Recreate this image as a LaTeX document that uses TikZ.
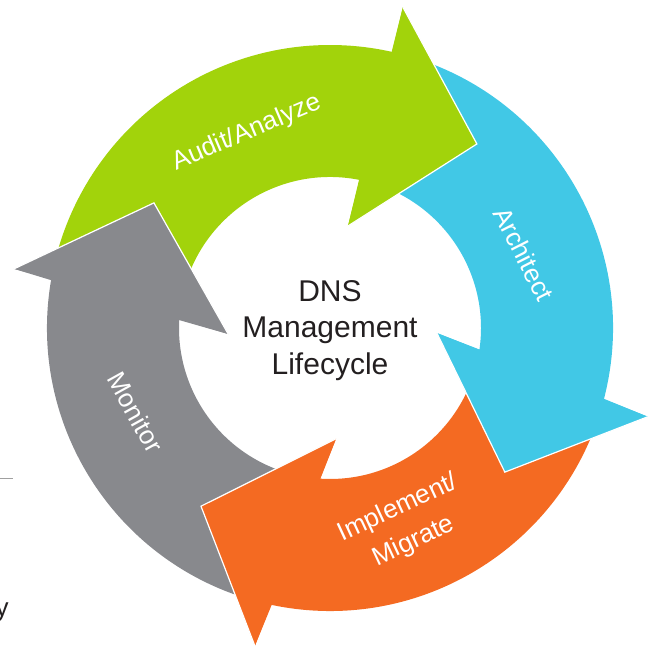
\documentclass[tikz,border=0pt]{standalone}
\usepackage{fontspec}
\setmainfont{Liberation Sans}
\usetikzlibrary{calc}

\definecolor{cgreen}{HTML}{A2D30B}
\definecolor{cblue}{HTML}{41C8E6}
\definecolor{corange}{HTML}{F46A22}
\definecolor{cgray}{HTML}{88898D}
\definecolor{ctext}{HTML}{231F20}
\definecolor{crule}{HTML}{A0A0A0}

\tikzset{
  headedge/.style={draw=white, line width=1.2pt, line join=miter},
  steplabel/.style={text=white, inner sep=0pt, font=\fontsize{26}{37}\selectfont, align=center},
  centerlabel/.style={text=ctext, inner sep=0pt, anchor=base, font=\fontsize{30}{36}\selectfont},
}

\begin{document}
\begin{tikzpicture}[x=1pt,y=1pt]
\useasboundingbox (0,0) rectangle (649,647);
\coordinate (C) at (330,319);

% arrow heads: outer barb (O), tip (T), inner barb (I)
\coordinate (gO) at ($(C)+(77.2:329pt)$);
\coordinate (gT) at ($(C)+(51.4:235.5pt)$);
\coordinate (gI) at ($(C)+(80:103.6pt)$);

\coordinate (bO) at ($(C)+(-15.6:330pt)$);
\coordinate (bT) at ($(C)+(-39.5:226.6pt)$);
\coordinate (bI) at ($(C)+(-2.7:107pt)$);

\coordinate (oO) at ($(C)+(-103.3:326.7pt)$);
\coordinate (oT) at ($(C)+(-125.9:220pt)$);
\coordinate (oI) at ($(C)+(-86.9:111pt)$);

\coordinate (yO) at ($(C)+(169.4:321.5pt)$);
\coordinate (yT) at ($(C)+(144.6:216pt)$);
\coordinate (yI) at ($(C)+(183.4:102pt)$);

% full ring arrows (shaft + head)
\fill[cgreen] ($(C)+(168:283pt)$) arc[start angle=168, end angle=77.3, radius=283pt]
  -- (gO) -- (gT) -- (gI) -- ($(C)+(78.9:151pt)$)
  arc[start angle=78.9, end angle=168, radius=151pt] -- cycle;
\fill[cblue] ($(C)+(75.4:283pt)$) arc[start angle=75.4, end angle=-14.5, radius=283pt]
  -- (bO) -- (bT) -- (bI) -- ($(C)+(-8.2:151pt)$)
  arc[start angle=-8.2, end angle=75.4, radius=151pt] -- cycle;
\fill[corange] ($(C)+(-15.5:283pt)$) arc[start angle=-15.5, end angle=-101.9, radius=283pt]
  -- (oO) -- (oT) -- (oI) -- ($(C)+(-93.8:151pt)$)
  arc[start angle=-93.8, end angle=-15.5, radius=151pt] -- cycle;
\fill[cgray] ($(C)+(254:283pt)$) arc[start angle=254, end angle=170, radius=283pt]
  -- (yO) -- (yT) -- (yI) -- ($(C)+(177:151pt)$)
  arc[start angle=177, end angle=254, radius=151pt] -- cycle;

% heads laid over the tail of the next arrow, with a white rim
\fill[cgreen] (gO) -- (gT) -- (gI) -- cycle;
\path[headedge] (gO) -- (gT) -- (gI);
\fill[cblue] (bO) -- (bT) -- (bI) -- cycle;
\path[headedge] (bO) -- (bT) -- (bI);
\fill[corange] (oO) -- (oT) -- (oI) -- cycle;
\path[headedge] (oO) -- (oT) -- (oI);
\fill[cgray] (yO) -- (yT) -- (yI) -- cycle;
\path[headedge] (yO) -- (yT) -- (yI);

% step labels
\node[steplabel, rotate=23] (audit) at ($(C)+(113.1:212pt)$) {Audit/Analyze};
\node[steplabel, rotate=-63] (arch) at ($(C)+(20.9:207.6pt)$) {Architect};
\node[steplabel, rotate=25] (impl) at ($(C)+(-68.9:211pt)$) {Implement/\\Migrate};
\node[steplabel, rotate=-61] (mon) at ($(C)+(203.4:212pt)$) {Monitor};

% centre title
\node[centerlabel] (title1) at (330,345) {DNS};
\node[centerlabel] (title2) at (330,309) {Management};
\node[centerlabel] (title3) at (330,272) {Lifecycle};

% bits of the surrounding page at the left edge
\coordinate (ruleA) at (0,168);
\coordinate (ruleB) at (12.7,168);
\draw[crule, line width=1pt] (ruleA) -- (ruleB);
\node[anchor=base east, inner sep=0pt, text=ctext, font=\fontsize{26}{31}\selectfont] (edgey) at (8.8,30) {y};
\end{tikzpicture}
\end{document}
